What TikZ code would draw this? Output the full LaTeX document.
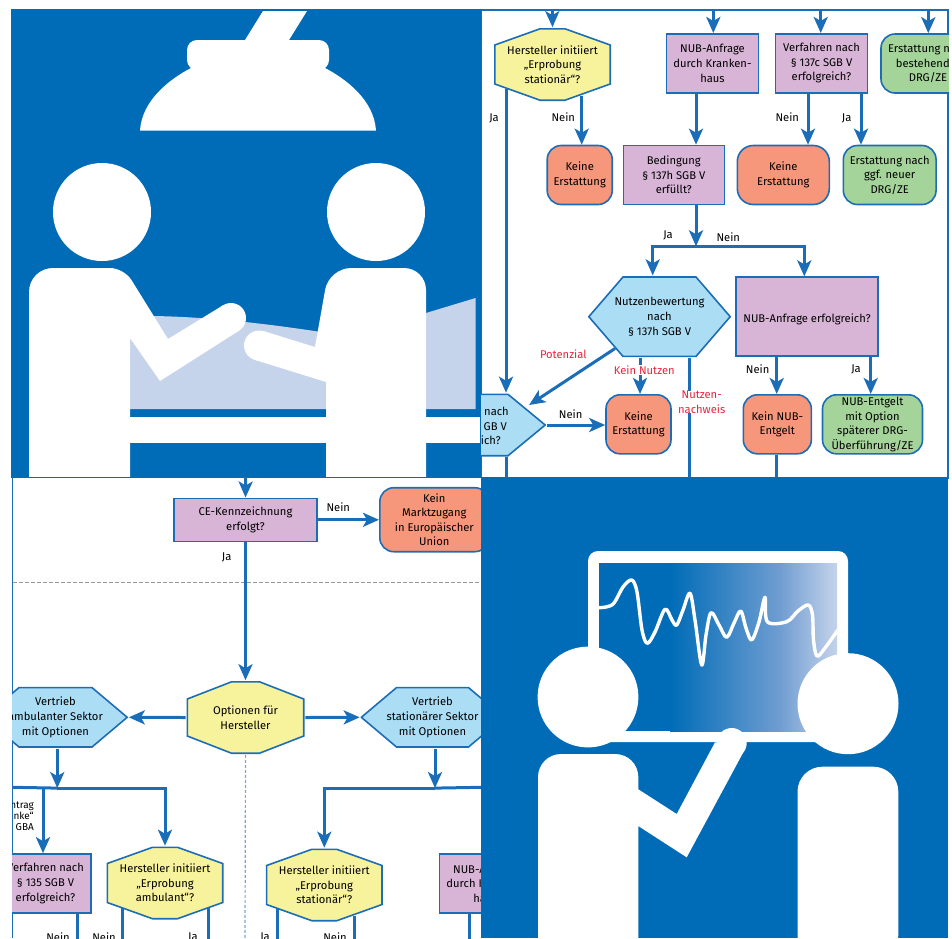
\documentclass[tikz,border=0pt]{standalone}
\usepackage{fontspec}
\setmainfont{Fira Sans}
\usetikzlibrary{arrows.meta,calc}
\definecolor{panelblue}{HTML}{006CB7}
\definecolor{bedblue}{HTML}{C5D3EB}
\definecolor{midblue}{HTML}{6F9DD1}
\definecolor{flowblue}{HTML}{1C6DB8}
\definecolor{purplefill}{HTML}{D8B4D6}
\definecolor{greenfill}{HTML}{A5D49A}
\definecolor{salmonfill}{HTML}{F6967A}
\definecolor{yellowfill}{HTML}{F7F29C}
\definecolor{skyfill}{HTML}{ABDDF5}
\definecolor{redlabel}{HTML}{E8233F}
\begin{document}
\begin{tikzpicture}[x=1pt,y=-1pt]

\tikzset{
  flownode/.style={draw=flowblue,line width=1.6pt,align=center,inner sep=0pt,
    font=\fontsize{11.2}{14.6}\selectfont,execute at begin node={\rule{0pt}{13.5pt}}},
  question/.style={flownode,fill=purplefill,rectangle},
  nopay/.style={flownode,fill=salmonfill,rectangle,rounded corners=14pt},
  payment/.style={flownode,fill=greenfill,rectangle,rounded corners=14pt},
  % polygon is drawn inside the node's box: cut in x, cut in y, colour
  cutbox/.style n args={3}{flownode,draw=none,rectangle,path picture={
    \def\ppbb{path picture bounding box}
    \draw[draw=flowblue,fill=#3,line width=1.6pt]
      ($(\ppbb.north west)+(#1,0.8)$) -- ($(\ppbb.north east)+(-#1,0.8)$)
      -- ($(\ppbb.north east)+(-0.8,#2)$) -- ($(\ppbb.south east)+(-0.8,-#2)$)
      -- ($(\ppbb.south east)+(-#1,-0.8)$) -- ($(\ppbb.south west)+(#1,-0.8)$)
      -- ($(\ppbb.south west)+(0.8,-#2)$) -- ($(\ppbb.north west)+(0.8,#2)$) -- cycle;
  }},
  octa/.style={cutbox={46}{17}{yellowfill},minimum width=117pt,minimum height=73pt},
  hexa/.style 2 args={cutbox={#1}{#2}{skyfill}},
  lbl/.style={inner sep=0pt,font=\fontsize{11.2}{14.6}\selectfont,align=center},
  redlbl/.style={lbl,text=redlabel},
  flow/.style={draw=flowblue,line width=3pt,-{Stealth[length=16pt,width=14pt,inset=4pt]}},
  plainflow/.style={draw=flowblue,line width=3pt},
  figure/.style={fill=white}
}

\useasboundingbox (0,0) rectangle (952,938);

% treatment panel
\fill[panelblue] (11,9) rectangle (481.5,478);
\begin{scope}
\clip (11,9) rectangle (481.5,476.5);
\fill[bedblue] (130,409) -- (130,316) .. controls (190,315) and (260,322) .. (340,335)
  -- (426,313) -- (475.6,298) -- (475.6,409) -- cycle;
\fill[figure] (130,417) rectangle (480,443);
% lamp
\fill[figure] (263,11) -- (307,11) -- (289,40) -- (245,40) -- cycle;
\fill[figure,rounded corners=10pt] (187,40) rectangle (329,70);
\fill[figure] (140,130.5) .. controls (142,100) and (170,79) .. (191,68)
  -- (325,68) .. controls (346,79) and (374,100) .. (376,130.5) -- cycle;
% people
\fill[figure] (102,212) circle (49pt);
\fill[figure] (376,212) circle (49pt);
\fill[figure,rounded corners=24pt] (29,490) -- (29,268) [rounded corners=14pt] -- (124,268)
  [sharp corners] -- (168,339) -- (223,305.3) -- (239,330.7) -- (160,381) -- (130,338) -- (130,490) -- cycle;
\fill[figure] (231,318) circle (15pt);
\fill[figure,rounded corners=22pt] (426,490) -- (426,268) -- (329,268) [rounded corners=0pt]
  -- (315,347) -- (263.5,331) -- (254.5,359.8) -- (326,382) -- (326,490) -- cycle;
\fill[figure] (259,345.5) circle (15pt);
\end{scope}

% upper flow chart
\begin{scope}
\clip (481,9) rectangle (949,478);
\draw[flowblue,line width=1.8pt] (481.5,10) rectangle (948,478);

\coordinate (topa) at (552.3,9);
\coordinate (topb) at (713.3,9);
\coordinate (topc) at (820.7,9);
\coordinate (topd) at (928.3,9);
\coordinate (lowa) at (506,478);
\coordinate (lowb) at (689.3,478);
\coordinate (lowc) at (776.7,478);

\node[octa] (startstat) at (552.5,64.5) {Hersteller initiiert\\„Erprobung\\stationär“?};
\node[question,minimum width=92pt,minimum height=59pt] (nubreq) at (712.5,63.3) {NUB-Anfrage\\durch Kranken-\\haus};
\node[question,minimum width=92pt,minimum height=59pt] (procc) at (821.5,63.3) {Verfahren nach\\§ 137c SGB V\\erfolgreich?};
\node[payment,minimum width=94pt,minimum height=59pt] (paydrg) at (928,63.5) {Erstattung nach\\bestehender\\DRG/ZE};
\node[nopay,minimum width=65pt,minimum height=59pt] (nonea) at (579.7,175) {Keine\\Erstattung};
\node[question,minimum width=101pt,minimum height=59pt] (condh) at (673.8,175) {Bedingung\\§ 137h SGB V\\erfüllt?};
\node[nopay,rounded corners=16pt,minimum width=92pt,minimum height=59pt] (noneb) at (783.3,175) {Keine\\Erstattung};
\node[payment,minimum width=92.7pt,minimum height=59pt] (paynew) at (889.7,175) {Erstattung nach\\ggf. neuer\\DRG/ZE};
\node[hexa={35}{40.5},minimum width=143pt,minimum height=81pt] (benefit) at (659.5,316.7) {Nutzenbewertung\\nach\\§ 137h SGB V};
\node[question,minimum width=142pt,minimum height=79pt] (nubok) at (807,316.7) {NUB-Anfrage erfolgreich?};
\node[hexa={38}{31.5},minimum width=148pt,minimum height=63pt] (trial) at (472,425) {};
\node[lbl,align=right,anchor=east] (trialtext) at (509,426) {nach\\GB V\rule{2pt}{0pt}\\ich?\rule{8pt}{0pt}};
\node[nopay,minimum width=65pt,minimum height=59pt] (nonec) at (638.5,424.3) {Keine\\Erstattung};
\node[nopay,minimum width=68pt,minimum height=59pt] (nonenub) at (777.3,424.3) {Kein NUB-\\Entgelt};
\node[payment,minimum width=100pt,minimum height=59pt] (paynub) at (872.5,424.3) {NUB-Entgelt\\mit Option\\späterer DRG-\\Überführung/ZE};

\draw[flow] (topa) -- (startstat.north);
\draw[flow] (topb) -- ($(nubreq.north)+(0.8,0)$);
\draw[flow] (topc) -- ($(procc.north)+(-0.8,0)$);
\draw[flow] (topd) -- ($(paydrg.north)+(0.3,0)$);
\draw[flow] ($(startstat.south)+(29.2,-6)$) -- ($(nonea.north)+(2,0)$);
\draw[flow] ($(startstat.south)+(-46.5,-13)$) -- ($(trial.north)+(34,0)$);
\draw[flow] ($(nubreq.south)+(-16.5,0)$) -- ($(condh.north)+(22.2,0)$);
\draw[flow] ($(procc.south)+(-13.5,0)$) -- ($(noneb.north)+(24.7,0)$);
\draw[flow] ($(procc.south)+(39.5,0)$) -- ($(paynew.north)+(-28.7,0)$);
\coordinate (split) at ($(condh.south)+(22.2,41)$);
\draw[flow] ($(condh.south)+(22.2,0)$) -- (split);
\draw[flow] (split) -| ($(benefit.north)+(-6.8,0)$);
\draw[flow] (split) -| ($(nubok.north)+(-2.7,0)$);
\draw[flow] ($(benefit.south)+(-19.5,0)$) -- ($(nonec.north)+(1.5,0)$);
\draw[flow] ($(benefit.south)+(-44.5,-9.5)$) -- ($(trial.east)+(-17.7,-20)$);
\draw[plainflow] ($(benefit.south)+(29.8,0)$) -- (lowb);
\draw[flow] ($(nubok.south)+(-30.3,0)$) -- ($(nonenub.north)+(-0.6,0)$);
\draw[flow] ($(nubok.south)+(63.7,0)$) -- ($(paynub.north)+(-1.8,0)$);
\draw[flow] (trial.east) -- (nonec.west |- trial.east);
\draw[plainflow] ($(trial.south)+(34,0)$) -- (lowa);
\draw[plainflow] ($(nonenub.south)+(-0.6,0)$) -- (lowc);

\node[lbl] (lja) at (494,118) {Ja};
\node[lbl] (lnein) at (563.3,116.7) {Nein};
\node[lbl] (lneinb) at (787.3,117.3) {Nein};
\node[lbl] (ljb) at (846.7,118) {Ja};
\node[lbl] (ljc) at (668,235.7) {Ja};
\node[lbl] (lneinc) at (728.3,236.7) {Nein};
\node[redlbl] (lpot) at (563.3,354.3) {Potenzial};
\node[redlbl,fill=white,inner ysep=1pt] (lnone) at (644.3,370) {Kein Nutzen};
\node[redlbl,fill=white] (lproof) at (701.7,402) {Nutzen-\\nachweis};
\node[lbl] (lneind) at (757.7,369) {Nein};
\node[lbl] (ljd) at (856,369) {Ja};
\node[lbl] (lneine) at (570.7,414) {Nein};
\end{scope}

% lower flow chart
\begin{scope}
\clip (12,477) rectangle (481,938);
\draw[flowblue,line width=1.5pt] (12.7,477) -- (12.7,938);
\draw[gray!80,line width=1.2pt,dash pattern=on 4pt off 2pt] (13,582.7) -- (481,582.7);

\coordinate (entry) at (245.7,477);
\coordinate (guide) at (245,938);
\coordinate (edgeleft) at (13,787.3);
\coordinate (edgeright) at (481,787.3);

\node[question,minimum width=143pt,minimum height=43pt] (ce) at (245.5,519.8) {CE-Kennzeichnung\\erfolgt?};
\node[nopay,minimum width=109pt,minimum height=64pt] (nomarket) at (434.3,519.7) {Kein\\Marktzugang\\in Europäischer\\Union};
\node[cutbox={45}{18}{yellowfill},minimum width=118pt,minimum height=73pt] (maker) at (245.5,717.5) {Optionen für\\Hersteller};
\node[hexa={36}{30.5},minimum width=145pt,minimum height=61pt] (sellamb) at (55.5,717.3) {Vertrieb\\ambulanter Sektor\\mit Optionen};
\node[hexa={36}{30.5},minimum width=144pt,minimum height=61pt] (sellstat) at (432.5,717.3) {Vertrieb\\stationärer Sektor\\mit  Optionen};
\node[question,minimum width=91pt,minimum height=59pt] (proca) at (45.5,883.5) {Verfahren nach\\§ 135 SGB V\\erfolgreich?};
\node[octa] (startamb) at (165,883) {Hersteller initiiert\\„Erprobung\\ambulant“?};
\node[octa] (startsta) at (324.3,885) {Hersteller initiiert\\„Erprobung\\stationär“?};
\node[question,minimum width=92pt,minimum height=59pt] (nubreqb) at (485.5,883.5) {NUB-Anfrage\\durch Kranken-\\haus};
\node[lbl,align=right,anchor=east,font=\fontsize{10}{11.2}\selectfont] (gba) at (34,816) {ntrag\\nke“\\GBA};

\draw[flow] (entry) -- (ce.north);
\draw[flow] (ce.east) -- (nomarket.west |- ce.east);
\draw[flow] (ce.south) -- (maker.north);
\draw[flow] (maker.west) -- (sellamb.east);
\draw[flow] (maker.east) -- (sellstat.west);
\draw[flowblue!60,line width=1.2pt,dash pattern=on 3pt off 2pt] (maker.south) -- (guide);
\coordinate (forka) at ($(sellamb.south)+(1.8,39.5)$);
\coordinate (forkb) at ($(sellstat.south)+(2.5,39.5)$);
\draw[flow] ($(sellamb.south)+(1.8,0)$) -- (forka);
\draw[flow] ($(sellstat.south)+(2.5,0)$) -- (forkb);
\draw[plainflow] (edgeleft) -- (forka);
\draw[flow] (forka) -| (startamb.north);
\draw[flow] (edgeleft -| proca.north) ++(-2.5,0) -- ($(proca.north)+(-2.5,0)$);
\draw[flow] (forkb) -| (startsta.north);
\draw[plainflow] (forkb) -- (edgeright);
\foreach \from/\dx/\dy in {proca/31.8/0,startamb/-42.7/-12,startamb/43/-12,startsta/-47/-13,startsta/29.7/-6,nubreqb/-16.5/0}{
  \draw[plainflow] ($(\from.south)+(\dx,\dy)$) -- ($(\from.south)+(\dx,60)$);
}

\node[lbl] (lneinf) at (338.3,507.3) {Nein};
\node[lbl] (lje) at (226.7,557.3) {Ja};
\node[lbl] (lneing) at (58,936.7) {Nein};
\node[lbl] (lneinh) at (104,936.7) {Nein};
\node[lbl] (ljf) at (193,937.5) {Ja};
\node[lbl] (ljg) at (265,937.5) {Ja};
\node[lbl] (lneini) at (335,936.7) {Nein};
\end{scope}

% monitor panel
\fill[panelblue] (481,477) rectangle (948,938);
\begin{scope}
\clip (481,477) rectangle (948,938);
\fill[figure,rounded corners=10pt] (588,551) rectangle (848,742);
\fill[panelblue] (599,563) rectangle (671,731);
\shade[left color=panelblue,right color=midblue] (670,563) rectangle (780,731);
\shade[left color=midblue,right color=bedblue] (779.5,563) rectangle (837,731);
\begin{scope}
\clip (599,563) rectangle (837,731);
\draw[white,line width=3.4pt,line cap=round,line join=round] plot[smooth,tension=0.55] coordinates {
  (596,607.7) (606,607) (614,603) (623,587) (631.7,580) (637,592) (642,630) (647.3,643.3)
  (655,632) (665,609.3) (672,620) (676.7,625) (683,610) (690,593.3) (695,620) (701.7,665)
  (706,635) (711,612.7) (719,625) (726.7,637.3) (734,623) (740.7,611) (746,628) (751.7,640)
  (759,622) (765,597.3) (767.3,621.7) (786.7,621.7) (798,611) (808.3,605) (812.5,615) (813.5,640)
  (817,656) (825,648) (840,627)};
\end{scope}
\fill[figure] (588,697) circle (50.4pt);
\fill[figure] (848,703.7) circle (50.5pt);
\fill[figure,rounded corners=23pt] (538,960) -- (538,754) -- (638.3,754) [sharp corners]
  -- (638.3,789.3) -- (676.7,814) -- (715,742.3) -- (731.7,743) -- (744,751) -- (686.7,857.3)
  -- (638.3,826) -- (638.3,960) -- cycle;
\fill[figure] (731.7,743) circle (15pt);
\fill[figure,rounded corners=25pt] (797.5,960) -- (797.5,766.7) -- (898.3,766.7) -- (898.3,960) -- cycle;
\end{scope}

\end{tikzpicture}
\end{document}
